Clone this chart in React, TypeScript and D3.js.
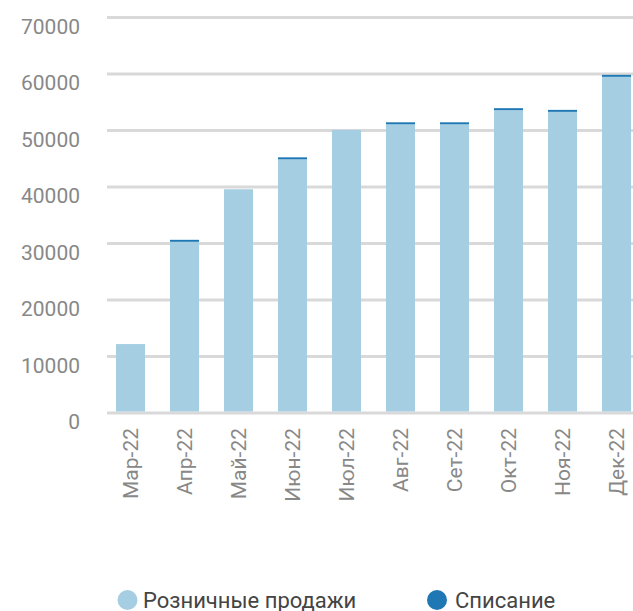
import React from "react";
import * as d3 from "d3";

const categories = ["Мар-22", "Апр-22", "Май-22", "Июн-22", "Июл-22", "Авг-22", "Сет-22", "Окт-22", "Ноя-22", "Дек-22"];
const retailSales = [12200, 30300, 39600, 44900, 50100, 51100, 51100, 53600, 53300, 59500];
const writeOffs = [0, 350, 0, 350, 0, 350, 350, 350, 350, 350];
const yTicks = [0, 10000, 20000, 30000, 40000, 50000, 60000, 70000];
const seriesNames = ["Розничные продажи", "Списание"];
const seriesColors = ["#a6cee3", "#1f78b4"];

const W = 633;
const H = 611;
const FONT = "Roboto, 'Noto Sans', sans-serif";

export default function App() {
  const x = d3
    .scaleBand<string>()
    .domain(categories)
    .range([103.5, 643.5])
    .paddingInner(0.463)
    .paddingOuter(0.2315);
  const y = d3.scaleLinear().domain([0, 70000]).range([413, 17.5]);

  const data = categories.map((c, i) => ({ cat: c, retail: retailSales[i], writeoff: writeOffs[i] }));
  const stack = d3.stack<any>().keys(["retail", "writeoff"])(data);

  return (
    <svg
      width={W}
      height={H}
      style={{ position: "fixed", left: 0, top: 0, background: "#fff" }}
      fontFamily={FONT}
    >
      <rect x={0} y={0} width={W} height={H} fill="#fff" />
      {yTicks.map((t) => (
        <g key={t}>
          <line x1={107} x2={W} y1={y(t)} y2={y(t)} stroke="#d9d9d9" strokeWidth={3} />
          <text x={80} y={y(t) + 16} textAnchor="end" fontSize={21} fill="#888">
            {t}
          </text>
        </g>
      ))}
      {stack.map((layer, li) => (
        <g key={li} fill={seriesColors[li]}>
          {layer.map((d: any, i: number) => {
            const h = y(d[0]) - y(d[1]);
            if (h <= 0) return null;
            return (
              <rect
                key={i}
                x={x(categories[i])}
                width={x.bandwidth()}
                y={y(d[1])}
                height={li === 0 ? y(0) - y(d[1]) - 1.5 : h}
              />
            );
          })}
        </g>
      ))}
      {categories.map((c) => {
        const cx = (x(c) as number) + x.bandwidth() / 2;
        return (
          <text
            key={c}
            transform={`translate(${cx},428) rotate(-90)`}
            textAnchor="end"
            dominantBaseline="central"
            fontSize={21}
            fill="#888"
          >
            {c}
          </text>
        );
      })}
      <g>
        <circle cx={127.5} cy={600} r={10} fill={seriesColors[0]} />
        <text x={143} y={608} fontSize={22} fill="#444">
          {seriesNames[0]}
        </text>
        <circle cx={437} cy={600} r={10} fill={seriesColors[1]} />
        <text x={455} y={608} fontSize={22} fill="#444">
          {seriesNames[1]}
        </text>
      </g>
    </svg>
  );
}
